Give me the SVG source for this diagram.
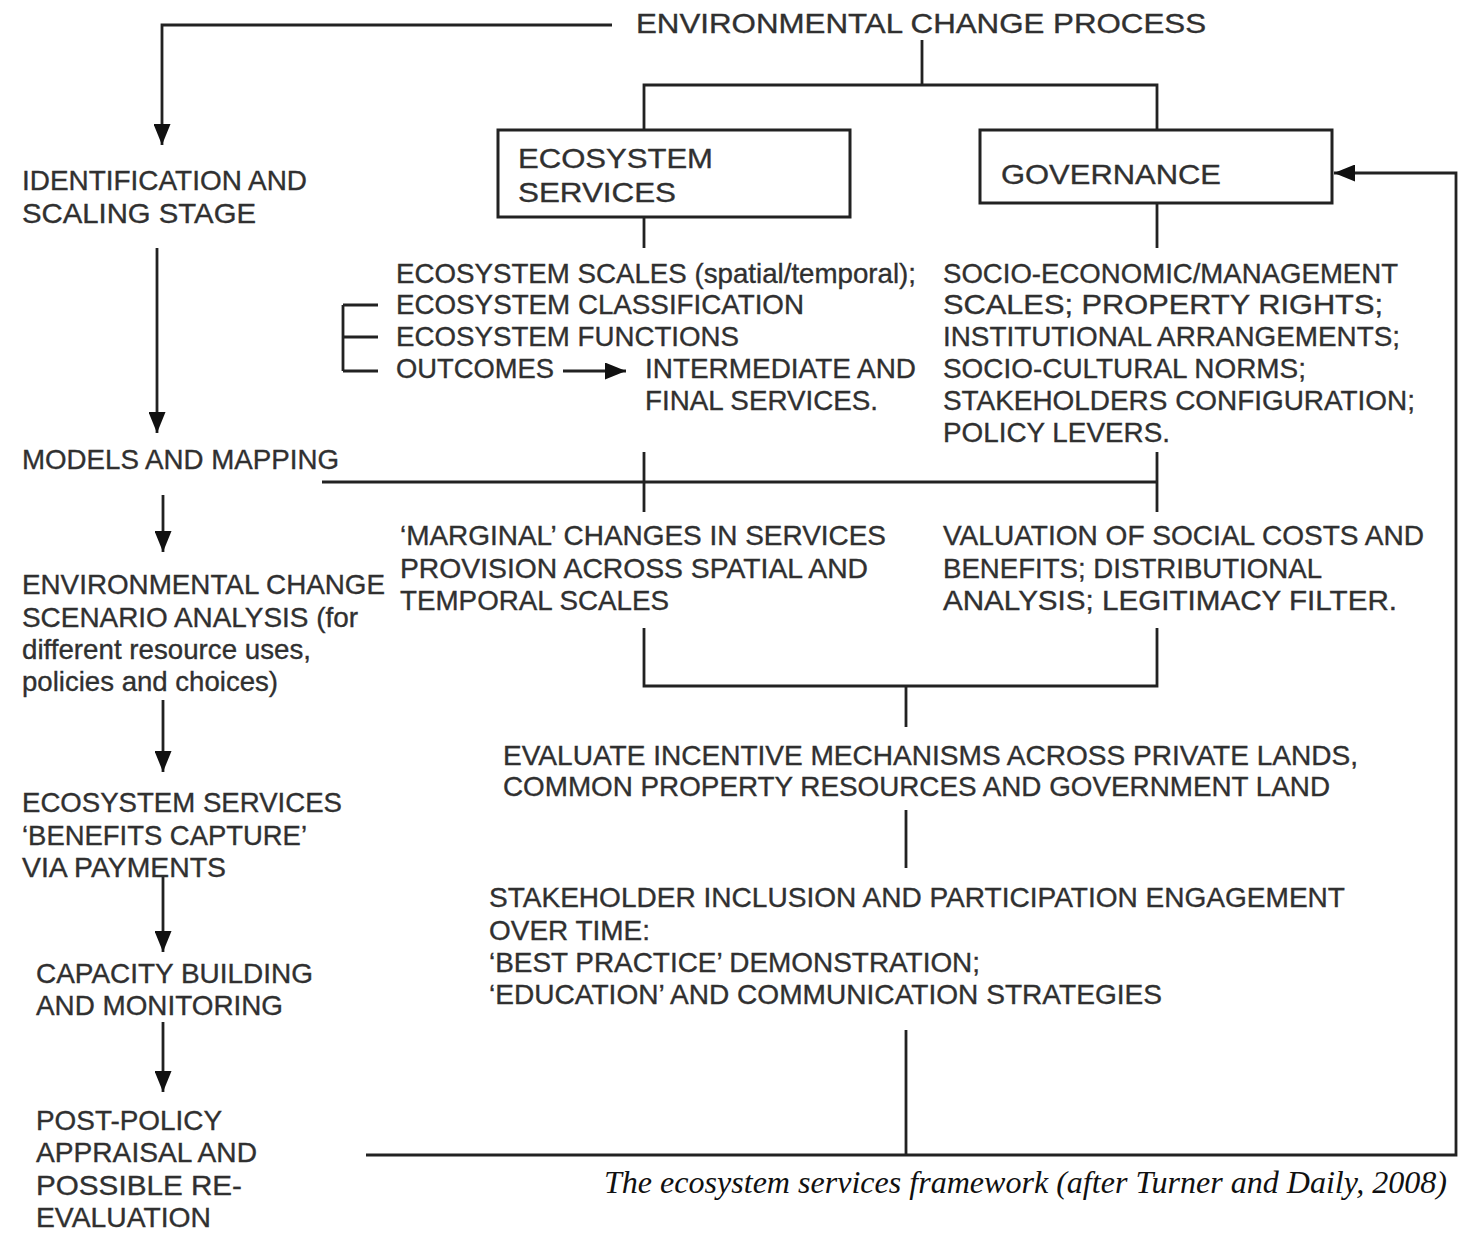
<svg xmlns="http://www.w3.org/2000/svg" width="1460" height="1233" viewBox="0 0 1460 1233">
<style>
text{font-family:"Liberation Sans",Arial,sans-serif;font-size:28px;fill:#303030;stroke:#303030;stroke-width:0.35}
.cap{font-family:"Liberation Serif","Times New Roman",serif;font-style:italic;font-size:32px;fill:#111;stroke:none}
.ln{fill:none;stroke:#222;stroke-width:2.8}
.box{fill:#fff;stroke:#222;stroke-width:3}
</style>
<defs>
<marker id="ah" viewBox="0 0 10 10" refX="10" refY="5" markerWidth="21" markerHeight="17" markerUnits="userSpaceOnUse" orient="auto" preserveAspectRatio="none"><path d="M0,0 L10,5 L0,10 z" fill="#111"/></marker>
</defs>
<rect width="1460" height="1233" fill="#fff"/>
<g id="connectors">
<path class="ln" d="M612,25 H162 V145" marker-end="url(#ah)"/>
<path class="ln" d="M922,40 V85"/>
<path class="ln" d="M644,130 V85 H1157 V130"/>
<path class="ln" d="M644,217 V248"/>
<path class="ln" d="M1157,203 V248"/>
<path class="ln" d="M157,248 V433" marker-end="url(#ah)"/>
<path class="ln" d="M343,305 V371 M343,305 H378 M343,337 H378 M343,371 H378"/>
<path class="ln" d="M563,371 H626" marker-end="url(#ah)"/>
<path class="ln" d="M322,482 H1157 M644,452 V512 M1157,452 V512"/>
<path class="ln" d="M163,495 V552" marker-end="url(#ah)"/>
<path class="ln" d="M644,628 V686 H1157 V628 M906,686 V727"/>
<path class="ln" d="M163,700 V772" marker-end="url(#ah)"/>
<path class="ln" d="M906,810 V868"/>
<path class="ln" d="M163,877 V952" marker-end="url(#ah)"/>
<path class="ln" d="M163,1022 V1092" marker-end="url(#ah)"/>
<path class="ln" d="M906,1030 V1155"/>
<path class="ln" d="M366,1155 H1456 V173 H1334" marker-end="url(#ah)"/>
</g>
<g id="env-change-process">
<text x="636" y="33" textLength="570" lengthAdjust="spacingAndGlyphs">ENVIRONMENTAL CHANGE PROCESS</text>
</g>
<g id="ecosystem-services-box">
<rect class="box" x="498" y="130" width="352" height="87"/>
<text x="518" y="168" textLength="195" lengthAdjust="spacingAndGlyphs">ECOSYSTEM</text>
<text x="518" y="202" textLength="158" lengthAdjust="spacingAndGlyphs">SERVICES</text>
</g>
<g id="governance-box">
<rect class="box" x="980" y="130" width="352" height="73"/>
<text x="1001" y="184" textLength="220" lengthAdjust="spacingAndGlyphs">GOVERNANCE</text>
</g>
<g id="identification">
<text x="22" y="190" textLength="285" lengthAdjust="spacingAndGlyphs">IDENTIFICATION AND</text>
<text x="22" y="223" textLength="234" lengthAdjust="spacingAndGlyphs">SCALING STAGE</text>
</g>
<g id="ecosystem-details">
<text x="396" y="283" textLength="520" lengthAdjust="spacingAndGlyphs">ECOSYSTEM SCALES (spatial/temporal);</text>
<text x="396" y="314" textLength="408" lengthAdjust="spacingAndGlyphs">ECOSYSTEM CLASSIFICATION</text>
<text x="396" y="346" textLength="343" lengthAdjust="spacingAndGlyphs">ECOSYSTEM FUNCTIONS</text>
<text x="396" y="378" textLength="158" lengthAdjust="spacingAndGlyphs">OUTCOMES</text>
</g>
<g id="intermediate-final">
<text x="645" y="378" textLength="271" lengthAdjust="spacingAndGlyphs">INTERMEDIATE AND</text>
<text x="645" y="410" textLength="233" lengthAdjust="spacingAndGlyphs">FINAL SERVICES.</text>
</g>
<g id="governance-details">
<text x="943" y="283" textLength="455" lengthAdjust="spacingAndGlyphs">SOCIO-ECONOMIC/MANAGEMENT</text>
<text x="943" y="314" textLength="440" lengthAdjust="spacingAndGlyphs">SCALES; PROPERTY RIGHTS;</text>
<text x="943" y="346" textLength="457" lengthAdjust="spacingAndGlyphs">INSTITUTIONAL ARRANGEMENTS;</text>
<text x="943" y="378" textLength="363" lengthAdjust="spacingAndGlyphs">SOCIO-CULTURAL NORMS;</text>
<text x="943" y="410" textLength="472" lengthAdjust="spacingAndGlyphs">STAKEHOLDERS CONFIGURATION;</text>
<text x="943" y="442" textLength="227" lengthAdjust="spacingAndGlyphs">POLICY LEVERS.</text>
</g>
<g id="models-mapping">
<text x="22" y="469" textLength="317" lengthAdjust="spacingAndGlyphs">MODELS AND MAPPING</text>
</g>
<g id="marginal-changes">
<text x="400" y="545" textLength="486" lengthAdjust="spacingAndGlyphs">‘MARGINAL’ CHANGES IN SERVICES</text>
<text x="400" y="578" textLength="468" lengthAdjust="spacingAndGlyphs">PROVISION ACROSS SPATIAL AND</text>
<text x="400" y="610" textLength="269" lengthAdjust="spacingAndGlyphs">TEMPORAL SCALES</text>
</g>
<g id="valuation">
<text x="943" y="545" textLength="481" lengthAdjust="spacingAndGlyphs">VALUATION OF SOCIAL COSTS AND</text>
<text x="943" y="578" textLength="379" lengthAdjust="spacingAndGlyphs">BENEFITS; DISTRIBUTIONAL</text>
<text x="943" y="610" textLength="454" lengthAdjust="spacingAndGlyphs">ANALYSIS; LEGITIMACY FILTER.</text>
</g>
<g id="scenario-analysis">
<text x="22" y="594" textLength="363" lengthAdjust="spacingAndGlyphs">ENVIRONMENTAL CHANGE</text>
<text x="22" y="627" textLength="336" lengthAdjust="spacingAndGlyphs">SCENARIO ANALYSIS (for</text>
<text x="22" y="659" textLength="289" lengthAdjust="spacingAndGlyphs">different resource uses,</text>
<text x="22" y="691" textLength="256" lengthAdjust="spacingAndGlyphs">policies and choices)</text>
</g>
<g id="evaluate-incentive">
<text x="503" y="765" textLength="855" lengthAdjust="spacingAndGlyphs">EVALUATE INCENTIVE MECHANISMS ACROSS PRIVATE LANDS,</text>
<text x="503" y="796" textLength="827" lengthAdjust="spacingAndGlyphs">COMMON PROPERTY RESOURCES AND GOVERNMENT LAND</text>
</g>
<g id="benefits-capture">
<text x="22" y="812" textLength="320" lengthAdjust="spacingAndGlyphs">ECOSYSTEM SERVICES</text>
<text x="22" y="845" textLength="285" lengthAdjust="spacingAndGlyphs">‘BENEFITS CAPTURE’</text>
<text x="22" y="877" textLength="204" lengthAdjust="spacingAndGlyphs">VIA PAYMENTS</text>
</g>
<g id="stakeholder-inclusion">
<text x="489" y="907" textLength="856" lengthAdjust="spacingAndGlyphs">STAKEHOLDER INCLUSION AND PARTICIPATION ENGAGEMENT</text>
<text x="489" y="940" textLength="161" lengthAdjust="spacingAndGlyphs">OVER TIME:</text>
<text x="489" y="972" textLength="491" lengthAdjust="spacingAndGlyphs">‘BEST PRACTICE’ DEMONSTRATION;</text>
<text x="489" y="1004" textLength="673" lengthAdjust="spacingAndGlyphs">‘EDUCATION’ AND COMMUNICATION STRATEGIES</text>
</g>
<g id="capacity-building">
<text x="36" y="983" textLength="277" lengthAdjust="spacingAndGlyphs">CAPACITY BUILDING</text>
<text x="36" y="1015" textLength="247" lengthAdjust="spacingAndGlyphs">AND MONITORING</text>
</g>
<g id="post-policy">
<text x="36" y="1130" textLength="186" lengthAdjust="spacingAndGlyphs">POST-POLICY</text>
<text x="36" y="1162" textLength="221" lengthAdjust="spacingAndGlyphs">APPRAISAL AND</text>
<text x="36" y="1195" textLength="206" lengthAdjust="spacingAndGlyphs">POSSIBLE RE-</text>
<text x="36" y="1227" textLength="175" lengthAdjust="spacingAndGlyphs">EVALUATION</text>
</g>
<g id="caption">
<text class="cap" x="604" y="1193" textLength="843" lengthAdjust="spacingAndGlyphs">The ecosystem services framework (after Turner and Daily, 2008)</text>
</g>
</svg>
